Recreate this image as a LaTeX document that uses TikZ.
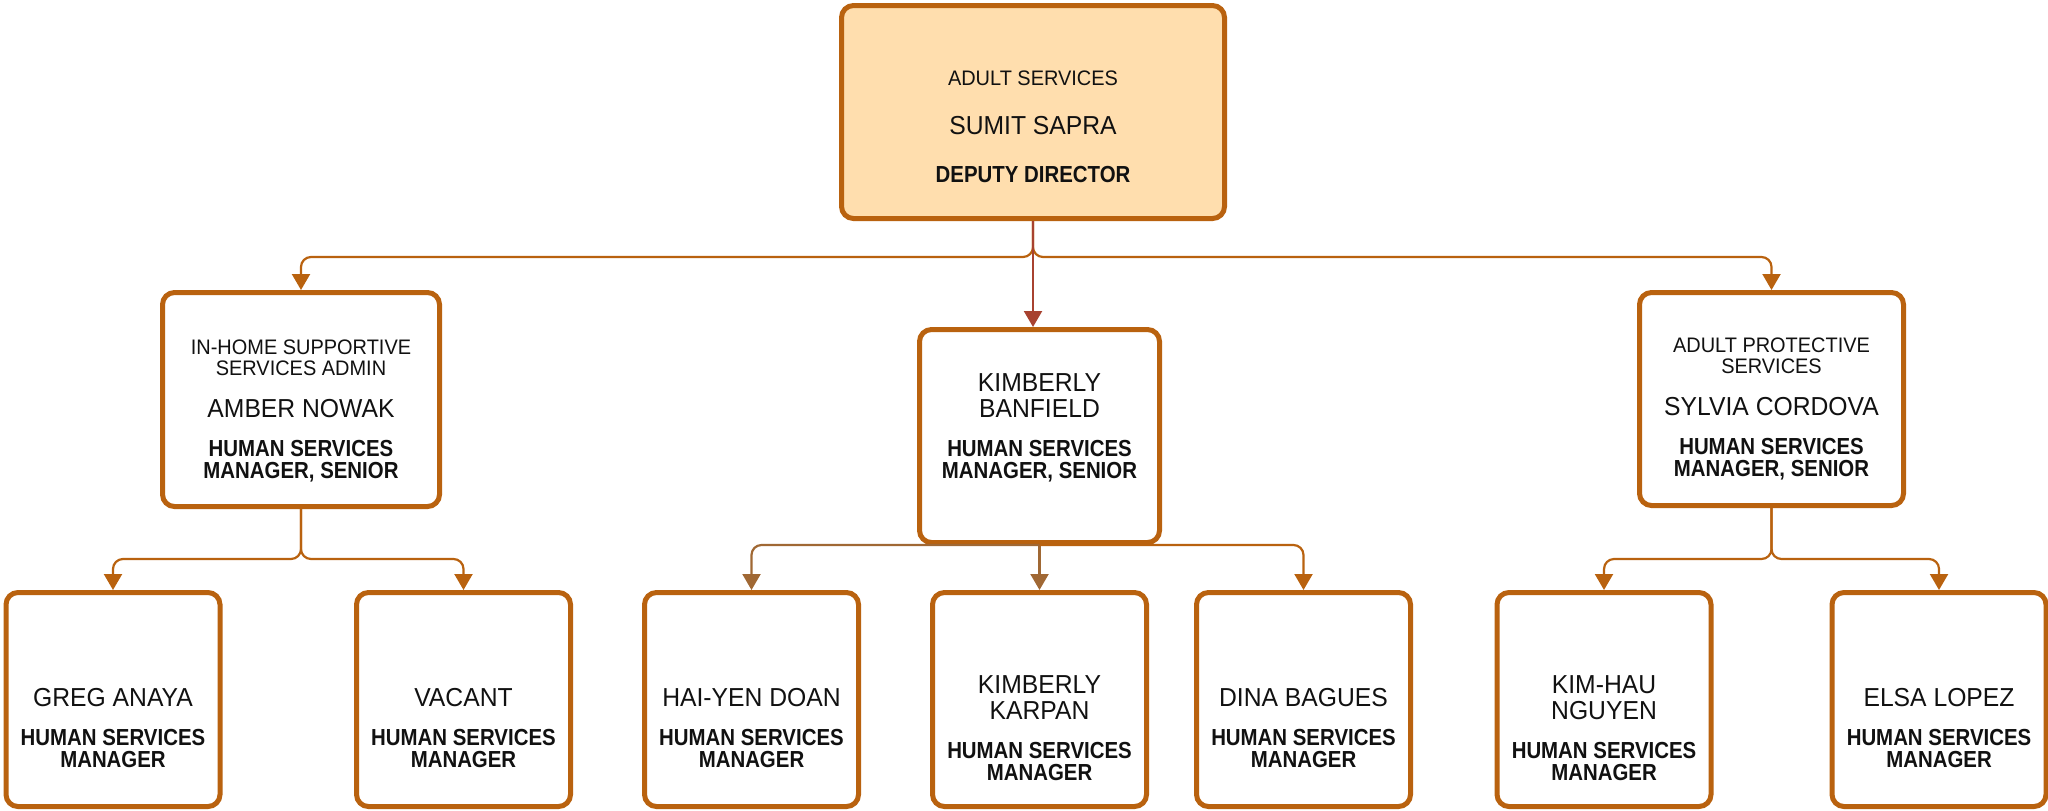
\documentclass[tikz,border=0pt]{standalone}
\usepackage{fontspec}
\setmainfont{Liberation Sans}[FakeStretch=0.95, BoldFeatures={FakeStretch=0.88}]
\usetikzlibrary{arrows.meta}

\definecolor{boxline}{RGB}{185,98,15}
\definecolor{headfill}{RGB}{255,222,174}
\definecolor{redlink}{RGB}{168,66,48}
\definecolor{tanlink}{RGB}{160,104,52}
\definecolor{ink}{RGB}{17,17,17}

\newcommand{\unitfont}{\fontsize{10.5}{10.5}\selectfont}
\newcommand{\namefont}{\fontsize{13}{13}\selectfont}
\newcommand{\rolefont}{\fontsize{11.6}{11.6}\selectfont\bfseries}
\newcommand{\lift}[1]{\rule{0pt}{#1}}
\newcommand{\sink}[1]{\rule[-#1]{0pt}{0pt}}

\tikzset{
  box/.style={draw=boxline, line width=2.5pt, rounded corners=6pt, fill=white,
    align=center, text=ink, font=\unitfont, inner sep=0pt},
  head/.style={box, fill=headfill, minimum width=191.5pt, minimum height=106.5pt},
  leaf/.style={box, minimum width=107pt, minimum height=107pt},
  link/.style={draw=boxline, line width=1.1pt, rounded corners=5pt,
    -{Triangle[width=9pt,length=8pt]}},
}

\begin{document}
\begin{tikzpicture}[x=0.5pt, y=-0.5pt]
  \useasboundingbox (0,0) rectangle (2048,810);

  \node[head] (top) at (1033,112)
    {\lift{22.4pt}{\unitfont ADULT SERVICES}\\[14pt]
     {\namefont SUMIT SAPRA}\\[13.5pt]
     {\rolefont DEPUTY DIRECTOR}};

  \node[box, minimum width=138.5pt, minimum height=107pt] (amber) at (301,399.5)
    {\lift{19.2pt}{\unitfont IN-HOME SUPPORTIVE}\\
     {\unitfont SERVICES ADMIN}\\[10.5pt]
     {\namefont AMBER NOWAK}\\[9pt]
     {\rolefont HUMAN SERVICES}\\[0.5pt]
     {\rolefont MANAGER, SENIOR}};
  \node[box, minimum width=120pt, minimum height=106.5pt] (banfield) at (1039.5,436)
    {{\namefont KIMBERLY}\\[2.5pt]
     {\namefont BANFIELD}\\[9pt]
     {\rolefont HUMAN SERVICES}\\[0.5pt]
     {\rolefont MANAGER, SENIOR}\sink{9.5pt}};
  \node[box, minimum width=132pt, minimum height=106.5pt] (sylvia) at (1771.5,399)
    {\lift{17.2pt}{\unitfont ADULT PROTECTIVE}\\
     {\unitfont SERVICES}\\[10.5pt]
     {\namefont SYLVIA CORDOVA}\\[9pt]
     {\rolefont HUMAN SERVICES}\\[0.5pt]
     {\rolefont MANAGER, SENIOR}};

  \node[leaf] (greg) at (113,699.5)
    {\lift{37.8pt}{\namefont GREG ANAYA}\\[9pt]
     {\rolefont HUMAN SERVICES}\\[0.5pt]{\rolefont MANAGER}};
  \node[leaf] (vacant) at (463.5,699.5)
    {\lift{37.8pt}{\namefont VACANT}\\[9pt]
     {\rolefont HUMAN SERVICES}\\[0.5pt]{\rolefont MANAGER}};
  \node[leaf] (haiyen) at (751.5,699.5)
    {\lift{37.8pt}{\namefont HAI-YEN DOAN}\\[9pt]
     {\rolefont HUMAN SERVICES}\\[0.5pt]{\rolefont MANAGER}};
  \node[leaf] (karpan) at (1039.5,699.5)
    {\lift{37.8pt}{\namefont KIMBERLY}\\[2.5pt]{\namefont KARPAN}\\[9pt]
     {\rolefont HUMAN SERVICES}\\[0.5pt]{\rolefont MANAGER}};
  \node[leaf] (dina) at (1303.5,699.5)
    {\lift{37.8pt}{\namefont DINA BAGUES}\\[9pt]
     {\rolefont HUMAN SERVICES}\\[0.5pt]{\rolefont MANAGER}};
  \node[leaf] (kimhau) at (1604,699.5)
    {\lift{37.8pt}{\namefont KIM-HAU}\\[2.5pt]{\namefont NGUYEN}\\[9pt]
     {\rolefont HUMAN SERVICES}\\[0.5pt]{\rolefont MANAGER}};
  \node[leaf] (elsa) at (1939,699.5)
    {\lift{37.8pt}{\namefont ELSA LOPEZ}\\[9pt]
     {\rolefont HUMAN SERVICES}\\[0.5pt]{\rolefont MANAGER}};

  \coordinate (jtop) at (1033,257);
  \coordinate (jamber) at (301,559);
  \coordinate (jsylvia) at (1771.5,559);

  \draw[link] (top.south) -- (jtop) -| (amber.north);
  \draw[link] (top.south) -- (jtop) -| (sylvia.north);
  \draw[link, draw=redlink, -{Triangle[width=9pt,length=8pt,fill=redlink]}]
    (top.south) -- (top.south |- banfield.north);

  \draw[link] (amber.south) -- (jamber) -| (greg.north);
  \draw[link] (amber.south) -- (jamber) -| (vacant.north);

  \draw[link, draw=tanlink] (banfield.south) -| (haiyen.north);
  \draw[link, draw=tanlink] (banfield.south) -- (karpan.north);
  \draw[link] (banfield.south) -| (dina.north);

  \draw[link] (sylvia.south) -- (jsylvia) -| (kimhau.north);
  \draw[link] (sylvia.south) -- (jsylvia) -| (elsa.north);
\end{tikzpicture}
\end{document}
